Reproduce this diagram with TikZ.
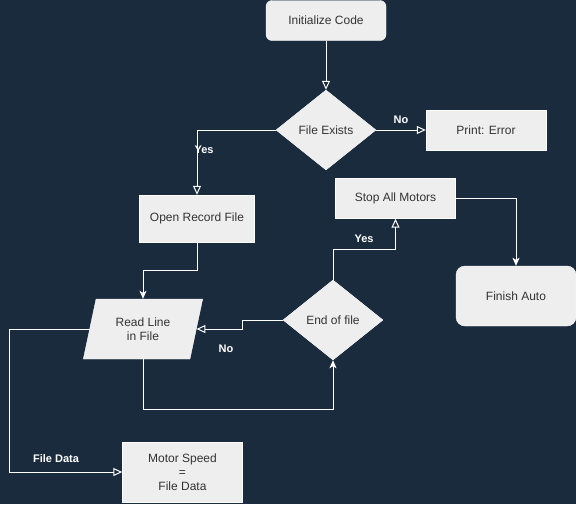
\documentclass[tikz,border=0pt]{standalone}
\usepackage{fontspec}
\setmainfont{Liberation Sans}
\usetikzlibrary{arrows.meta,shapes.geometric}
\definecolor{navy}{HTML}{1A2B3D}
\definecolor{boxgray}{HTML}{EEEEEE}
\definecolor{inkgray}{HTML}{333333}

\begin{document}
\begin{tikzpicture}[x=1pt, y=-1pt,
    box/.style={draw=white, fill=boxgray, text=inkgray, font=\fontsize{12}{14}\selectfont, align=center, inner sep=0pt},
    proc/.style={box, rectangle, minimum width=120pt, minimum height=40pt},
    choice/.style={box, diamond, aspect=1.25, minimum width=100pt, minimum height=80pt},
    data/.style={box, trapezium, trapezium left angle=72, trapezium right angle=108, trapezium stretches=true, minimum width=120pt, minimum height=60pt},
    lbl/.style={text=white, font=\bfseries\fontsize{11}{13}\selectfont},
    flow/.style={white, line width=1pt},
    arrhollow/.style={flow, -{Triangle[open, length=9pt, width=8pt]}},
    arrfull/.style={flow, -{Stealth[length=8pt, width=7pt, inset=2pt]}}]
    \fill[navy] (0,0) rectangle (576,504);
    \useasboundingbox (0,0) rectangle (576,504);

\node (init) at (326,20.5) [proc, rounded corners=6pt] {Initialize Code};
\node (fe) at (326,130) [choice] {File Exists};
\node (err) at (486,130) [proc] {Print: Error};
\node (orf) at (197,218.5) [proc, minimum width=115pt, minimum height=47pt] {Open Record File};
\node (stop) at (395.5,198.5) [proc] {Stop All Motors};
\node (fin) at (516,296) [proc, minimum height=60pt, rounded corners=9pt] {Finish Auto};
\node (rl) at (143,329) [data] {Read Line\\in File};
\node (eof) at (333,320) [choice] {End of file};
\node (ms) at (182.5,472) [proc, minimum height=60pt] {Motor Speed\\=\\File Data};

\draw[arrhollow] (init.south) -- (fe.north);
\draw[arrhollow] (fe.east) -- (err.west);
\draw[arrhollow] (fe.west) -| (orf.north);
\draw[arrfull] (orf.south) -- ++(0,28) -| (rl.north);
\draw[arrfull] (rl.south) -- ++(0,50) -| (eof.south);
\draw[arrhollow] (eof.west) -- ++(-40,0) |- (rl.east);
\draw[arrhollow] (eof.north) -- ++(0,-30) -| (stop.south);
\draw[arrfull] (stop.east) -| (fin.north);
\draw[arrhollow] (rl.west) -- ++(-80,0) |- (ms.west);

\node (noerr) at (401,120) [lbl] {No};
\node (yesopen) at (204,150) [lbl] {Yes};
\node (yesstop) at (364,239) [lbl] {Yes};
\node (noread) at (226,349) [lbl] {No};
\node (datalbl) at (56,459) [lbl] {File Data};
  \end{tikzpicture}
\end{document}
